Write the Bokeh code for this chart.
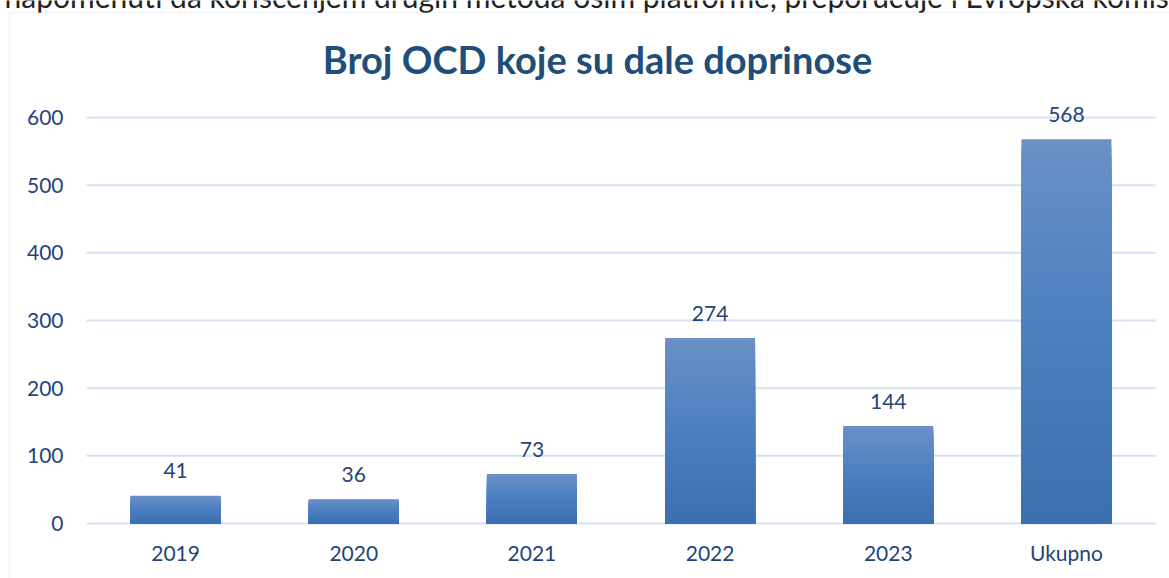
from bokeh.plotting import figure
from bokeh.models import Range1d, Label, BoxAnnotation, ColumnDataSource, FixedTicker
from bokeh.embed import file_html
from bokeh.resources import INLINE
from bokeh.core.properties import value

# ---- data ----
categories = ["2019", "2020", "2021", "2022", "2023", "Ukupno"]
counts = [41, 36, 73, 274, 144, 568]
y_ticks = [0, 100, 200, 300, 400, 500, 600]
title_text = "Broj OCD koje su dale doprinose"
context_text = "napomenuti da korišćenjem drugih metoda osim platforme, preporučuje i Evropska komisija"

# ---- layout (pixels) ----
W, H = 1169, 578
PLOT_L, PLOT_R, PLOT_T, PLOT_B = 86, 1155, 117, 523
Y_MAX = 600
ncat = len(categories)
kx = (PLOT_R - PLOT_L) / ncat
ky = (PLOT_B - PLOT_T) / Y_MAX

FONT = "Lato"
TXT = "#264478"
GRID = "#D6E2F2"

# gradient stops (top -> middle -> bottom of each bar)
stops = [(0.0, (107, 144, 198)), (0.5, (74, 127, 192)), (1.0, (60, 111, 176))]


def grad(t):
    for (t0, c0), (t1, c1) in zip(stops[:-1], stops[1:]):
        if t0 <= t <= t1:
            f = (t - t0) / (t1 - t0)
            return "#%02x%02x%02x" % tuple(int(round(a + (b - a) * f)) for a, b in zip(c0, c1))
    return "#%02x%02x%02x" % stops[-1][1]


xpos = [i + 0.5 for i in range(ncat)]

# nested bars: each drawn from 0 to a fraction of the value, darker as it gets shorter
N = 50
seg_x, seg_top, seg_color = [], [], []
for i in range(N):
    frac = 1 - i / N
    for x, v in zip(xpos, counts):
        seg_x.append(x)
        seg_top.append(v * frac)
        seg_color.append(grad((i + 0.5) / N))

seg_src = ColumnDataSource(dict(x=seg_x, top=seg_top, color=seg_color))
lab_src = ColumnDataSource(dict(x=xpos, y=counts, t=[str(v) for v in counts]))
grid_src = ColumnDataSource(dict(y=y_ticks, x0=[0] * len(y_ticks), x1=[ncat] * len(y_ticks)))

p = figure(
    x_range=Range1d(-PLOT_L / kx, ncat + (W - PLOT_R) / kx),
    y_range=Range1d(-(H - PLOT_B) / ky, Y_MAX + PLOT_T / ky),
    frame_width=W, frame_height=H,
    min_border=0,
    output_backend="svg", toolbar_location=None,
)
p.outline_line_color = None
p.background_fill_color = "white"
p.border_fill_color = "white"
p.xgrid.visible = False
p.ygrid.visible = False

# gridlines
p.segment(x0="x0", x1="x1", y0="y", y1="y", source=grid_src, line_color=GRID, line_width=2)

# bars
p.vbar(x="x", width=0.505, bottom=0, top="top", source=seg_src,
       fill_color="color", line_color=None)

# value labels
p.text(x="x", y="y", text="t", source=lab_src, text_align="center", text_baseline="middle",
       y_offset=-25, text_font=value(FONT), text_font_size="21px", text_color=TXT)

# axes placed inside the frame at x=0 / y=0
for ax in (p.xaxis[0], p.yaxis[0]):
    ax.axis_line_color = None
    ax.major_tick_line_color = None
    ax.minor_tick_line_color = None
    ax.major_tick_out = 0
    ax.major_tick_in = 0
    ax.major_label_text_font = FONT
    ax.major_label_text_font_size = "21px"
    ax.major_label_text_color = TXT
p.yaxis.fixed_location = 0
p.xaxis.fixed_location = 0
p.yaxis.ticker = FixedTicker(ticks=y_ticks)
p.yaxis.major_label_standoff = 23
p.xaxis.ticker = FixedTicker(ticks=xpos)
p.xaxis.major_label_overrides = {x: c for x, c in zip(xpos, categories)}
p.xaxis.major_label_standoff = 16

# title
p.add_layout(Label(x=597, y=H - 58, x_units="screen", y_units="screen", text=title_text,
                   text_align="center", text_baseline="alphabetic", text_font=FONT,
                   text_font_style="bold", text_font_size="38px", text_color="#1F4E79"))

# cut-off paragraph line above the chart box (cut by the page edge, as in the source)
p.add_layout(Label(x=4, y=H + 5, x_units="screen", y_units="screen", text=context_text,
                   text_align="left", text_baseline="alphabetic", text_font=FONT,
                   text_font_size="30px", text_color="#222222"))

# chart box border
p.add_layout(BoxAnnotation(left=9, right=W + 50, top=H - 12, bottom=-50,
                           left_units="screen", right_units="screen",
                           top_units="screen", bottom_units="screen",
                           fill_alpha=0, line_color="#CADBF0", line_width=1.5))

open("out.html", "w").write(file_html(p, INLINE))
